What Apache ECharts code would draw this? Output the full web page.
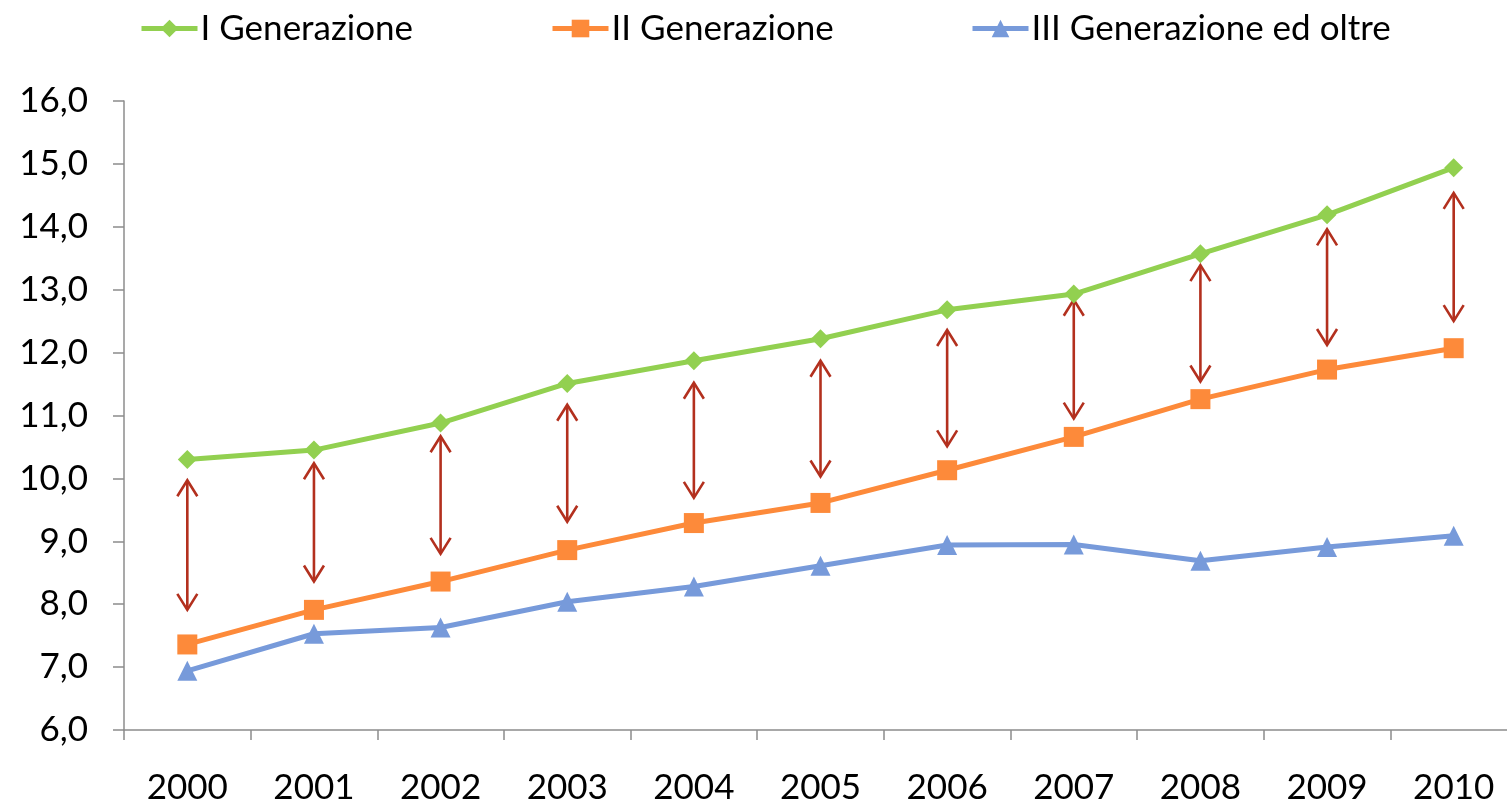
<!DOCTYPE html>
<html>
<head>
<meta charset="utf-8">
<script src="https://cdn.jsdelivr.net/npm/echarts@6/dist/echarts.min.js"></script>
<style>
    html, body { margin: 0; padding: 0; background: #fff; overflow: hidden; }
    /* il grafico originale esce di poco dal bordo destro */
    #chart { width: 1517px; height: 805px; }
</style>
</head>
<body>
<div id="chart"></div>
<script>
// anni
const years = ['2000', '2001', '2002', '2003', '2004', '2005', '2006', '2007', '2008', '2009', '2010'];

// valori
const gen1 = [10.3, 10.45, 10.88, 11.51, 11.87, 12.22, 12.68, 12.93, 13.57, 14.19, 14.94];
const gen2 = [7.36, 7.91, 8.36, 8.86, 9.29, 9.61, 10.13, 10.66, 11.26, 11.73, 12.07];
const gen3 = [6.94, 7.53, 7.63, 8.04, 8.28, 8.61, 8.94, 8.95, 8.69, 8.91, 9.09];

// frecce rosse (estremi)
const arrowTop = [9.97, 10.24, 10.67, 11.17, 11.52, 11.87, 12.36, 12.84, 13.39, 13.96, 14.54];
const arrowBottom = [7.91, 8.36, 8.8, 9.31, 9.69, 10.03, 10.51, 10.95, 11.54, 12.12, 12.5];

const yTicks = { min: 6, max: 16, step: 1 };

const font = 'Lato, "Open Sans", sans-serif';
const arrowColor = '#b3301e';

let arrowData = [];
for (let i = 0; i < years.length; i++) {
    arrowData.push([i, arrowTop[i], arrowBottom[i]]);
}

function renderArrow (params, api) {
    let top = api.coord([api.value(0), api.value(1)]);
    let bottom = api.coord([api.value(0), api.value(2)]);
    let x = top[0];
    let hw = 10, hh = 16;
    let style = { stroke: arrowColor, lineWidth: 2.6, fill: null };
    return {
        type: 'group',
        children: [
            { type: 'line', shape: { x1: x, y1: top[1] + 1, x2: x, y2: bottom[1] - 1 }, style: style },
            { type: 'polyline', shape: { points: [[x - hw, top[1] + hh], [x, top[1]], [x + hw, top[1] + hh]] }, style: style },
            { type: 'polyline', shape: { points: [[x - hw, bottom[1] - hh], [x, bottom[1]], [x + hw, bottom[1] - hh]] }, style: style }
        ]
    };
}

function legendAt (name, left) {
    return {
        data: [name],
        left: left,
        top: 6,
        itemWidth: 56,
        itemHeight: 22,
        itemGap: 0,
        lineStyle: { width: 5 },
        textStyle: { fontFamily: font, fontSize: 35, color: '#000', padding: [0, 0, 0, -2] }
    };
}

let chart = echarts.init(document.getElementById('chart'));
chart.setOption({
    backgroundColor: '#fff',
    animation: false,
    legend: [
        legendAt('I Generazione', 134),
        legendAt('II Generazione', 545),
        legendAt('III Generazione ed oltre', 965)
    ],
    grid: {
        left: 124,
        top: 101,
        right: 0,
        bottom: 72,
        containLabel: false
    },
    xAxis: {
        type: 'category',
        data: years,
        boundaryGap: true,
        axisLine: { lineStyle: { color: '#8c8c8c', width: 1.5 } },
        axisTick: { show: true, length: 10, lineStyle: { color: '#8c8c8c', width: 1.5 } },
        axisLabel: { fontFamily: font, fontSize: 35, color: '#000', margin: 40 }
    },
    yAxis: {
        type: 'value',
        min: yTicks.min,
        max: yTicks.max,
        interval: yTicks.step,
        axisLine: { show: true, lineStyle: { color: '#8c8c8c', width: 1.5 } },
        axisTick: { show: true, length: 11, lineStyle: { color: '#8c8c8c', width: 1.5 } },
        splitLine: { show: false },
        axisLabel: {
            fontFamily: font,
            fontSize: 35,
            color: '#000',
            margin: 36,
            formatter: function (v) { return v.toFixed(1).replace('.', ','); }
        }
    },
    series: [
        {
            name: 'I Generazione',
            type: 'line',
            data: gen1,
            symbol: 'diamond',
            symbolSize: 19,
            color: '#92d050',
            lineStyle: { width: 5 },
            z: 3
        },
        {
            name: 'II Generazione',
            type: 'line',
            data: gen2,
            symbol: 'rect',
            symbolSize: 20,
            color: '#fd8a3a',
            lineStyle: { width: 5 },
            z: 3
        },
        {
            name: 'III Generazione ed oltre',
            type: 'line',
            data: gen3,
            symbol: 'triangle',
            symbolSize: 20,
            color: '#779ada',
            lineStyle: { width: 5 },
            z: 3
        },
        {
            name: 'frecce',
            type: 'custom',
            renderItem: renderArrow,
            data: arrowData,
            encode: { x: 0, y: [1, 2] },
            silent: true,
            z: 2
        }
    ]
});
</script>
</body>
</html>
